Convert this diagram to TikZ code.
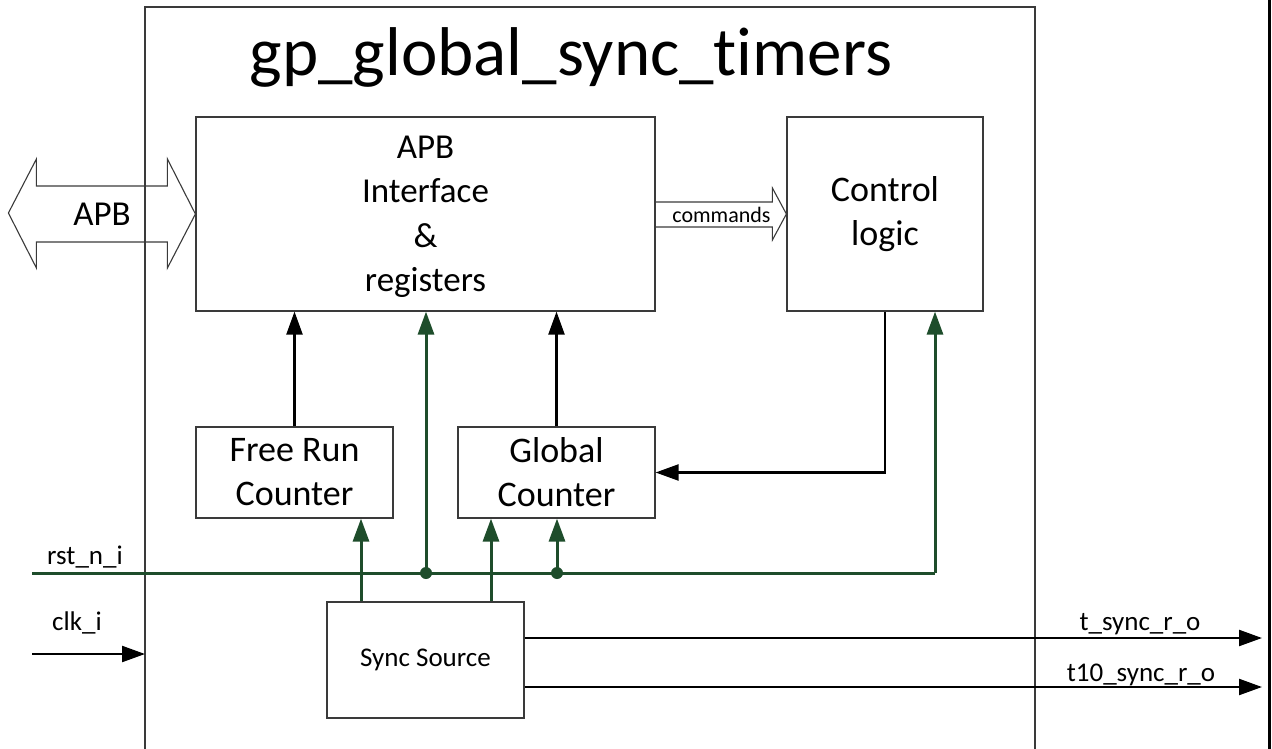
\documentclass[tikz,border=0pt]{standalone}
\usepackage{fontspec}
\setmainfont{Carlito}[Ligatures={NoCommon,NoRequired,NoContextual}]
\usetikzlibrary{arrows.meta,calc}

\definecolor{rstgreen}{HTML}{1E4D2B}
\definecolor{boxgray}{HTML}{3A3A3A}

\tikzset{
  block/.style={draw=boxgray, line width=1.2pt, fill=white, align=center,
    inner sep=0pt, font=\fontsize{36}{44}\selectfont},
  sig/.style={line width=2.3pt, -{Triangle[length=23pt,width=16pt]}},
  blk/.style={sig, draw=black},
  grn/.style={sig, line width=3pt, draw=rstgreen, fill=rstgreen},
  grnline/.style={line width=3pt, draw=rstgreen},
  lbl/.style={font=\fontsize{27}{32}\selectfont, inner sep=0pt, anchor=base},
  busarrow/.style={draw=boxgray, line width=1.1pt, line join=miter},
  dot/.style={fill=rstgreen}
}

\begin{document}
\begin{tikzpicture}[x=1pt,y=-1pt]
  \useasboundingbox (0,0) rectangle (1272,749);

  % module outline (open at the bottom) and right margin rule
  \coordinate (modL) at (145,0);
  \draw[draw=boxgray, line width=1.2pt] (145,749) -- (145,7) -- (1035,7) -- (1035,749);
  \draw[line width=3pt] (1269.5,0) -- (1269.5,749);

  \node[lbl, font=\fontsize{69}{80}\selectfont] (title) at (571,76) {gp\_global\_sync\_timers};

  % functional blocks
  \node[block, minimum width=459pt, minimum height=194pt] (apb) at (425.5,214) {};
  \node[font=\fontsize{35}{44.5}\selectfont, align=center, inner sep=0pt] (apbtxt) at (425.5,217)
     {APB\\Interface\\\&\\registers};
  \node[block, minimum width=196pt, minimum height=194pt] (ctrl) at (885,214) {Control\\logic};
  \node[block, minimum width=197pt, minimum height=91pt] (frc) at (294.5,472.5) {Free Run\\Counter};
  \node[block, minimum width=197pt, minimum height=91pt] (glc) at (556.5,472.5) {Global\\Counter};
  \node[block, minimum width=197pt, minimum height=116pt, font=\fontsize{27}{32}\selectfont] (sync) at (425.5,660) {Sync Source};

  % APB bus (double block arrow into the interface)
  \draw[busarrow] (apb.west)
     -- ($(apb.west)+(-28,-55)$) -- ($(apb.west)+(-28,-28)$)
     -- ($(apb.west)+(-159,-28)$) -- ($(apb.west)+(-159,-55)$)
     -- ($(apb.west)+(-187,-1)$)
     -- ($(apb.west)+(-159,54)$) -- ($(apb.west)+(-159,28)$)
     -- ($(apb.west)+(-28,28)$) -- ($(apb.west)+(-28,54)$) -- cycle;
  \node[font=\fontsize{35}{40}\selectfont, inner sep=0pt, anchor=base] (apblbl) at (102,225) {APB};

  % commands bus
  \draw[busarrow] ($(apb.east)+(0,-12)$) -- ($(ctrl.west)+(-14,-12)$)
     -- ($(ctrl.west)+(-14,-26)$) -- (ctrl.west)
     -- ($(ctrl.west)+(-14,26)$) -- ($(ctrl.west)+(-14,13)$)
     -- ($(apb.east)+(0,13)$);
  \node[font=\fontsize{22}{26}\selectfont, inner sep=0pt, anchor=base] (cmdlbl) at (721.5,222) {commands};

  % counter values read back by the register file
  \draw[blk] (frc.north) -- (frc.north |- apb.south);
  \draw[blk] (glc.north) -- (glc.north |- apb.south);

  % control logic drives the global counter
  \draw[blk] (ctrl.south) -- (ctrl.south |- glc.east) -- (glc.east);

  % reset net
  \coordinate (rstin) at (32,573);
  \coordinate (rstend) at (935,573);
  \coordinate (j1) at (426,573);
  \coordinate (j2) at (557,573);
  \draw[grnline] (rstin) -- (rstend);
  \draw[grn] (rstend) -- (rstend |- ctrl.south);
  \draw[grn] (j1) -- (j1 |- apb.south);
  \draw[grn] (j2) -- (j2 |- glc.south);
  \fill[dot] (j1) circle (6pt);
  \fill[dot] (j2) circle (6pt);
  \node[lbl] (rstlbl) at (85,564) {rst\_n\_i};

  % sync pulses into the counters
  \coordinate (s1) at (361,0);
  \coordinate (s2) at (491,0);
  \draw[grn] (s1 |- sync.north) -- (s1 |- frc.south);
  \draw[grn] (s2 |- sync.north) -- (s2 |- glc.south);

  % clock input
  \coordinate (clkin) at (32,654);
  \draw[blk] (clkin) -- (clkin -| modL);
  \node[lbl] (clklbl) at (77,630) {clk\_i};

  % sync outputs
  \coordinate (o1) at (1262,638);
  \coordinate (o2) at (1262,687);
  \draw[blk] (sync.east |- o1) -- (o1);
  \draw[blk] (sync.east |- o2) -- (o2);
  \node[lbl] (o1lbl) at (1140,630) {t\_sync\_r\_o};
  \node[lbl] (o2lbl) at (1141,681) {t10\_sync\_r\_o};
\end{tikzpicture}
\end{document}
